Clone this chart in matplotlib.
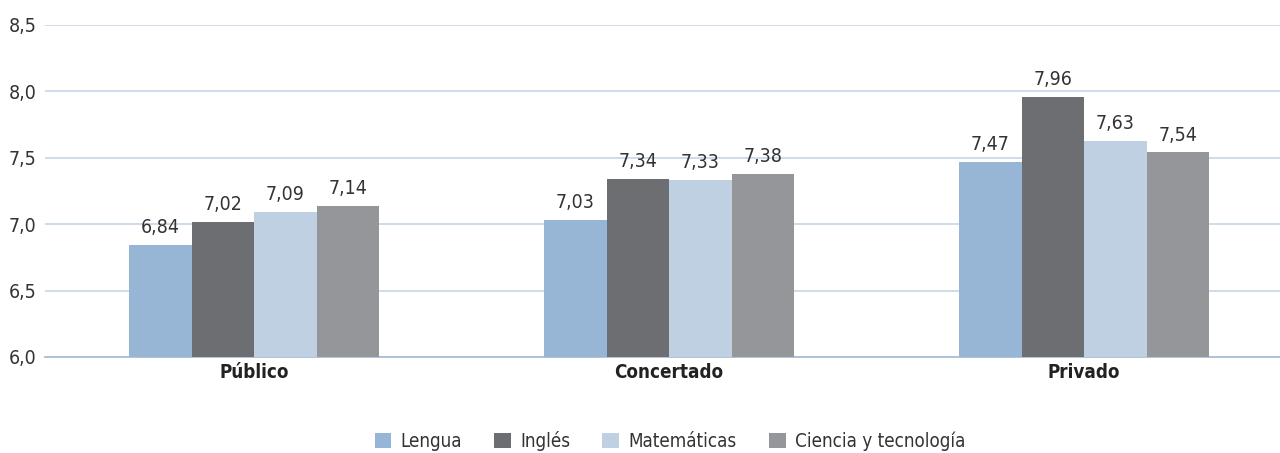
import numpy as np
import matplotlib
matplotlib.use("Agg")
import matplotlib.pyplot as plt

plt.rcParams['font.family'] = ['DejaVu Sans']
plt.rcParams['font.stretch'] = 'condensed'

grupos = ["Público", "Concertado", "Privado"]
series = ["Lengua", "Inglés", "Matemáticas", "Ciencia y tecnología"]
lengua = [6.84, 7.03, 7.47]
ingles = [7.02, 7.34, 7.96]
matematicas = [7.09, 7.33, 7.63]
ciencia = [7.14, 7.38, 7.54]
colores = ["#97B5D4", "#6D6E72", "#BED0E2", "#959699"]

valores = [lengua, ingles, matematicas, ciencia]

fig = plt.figure(figsize=(12.8, 4.53), dpi=100)
ax = fig.add_axes([45/1280, 96/453, 1235/1280, 332/453])

x = np.arange(len(grupos))
w = 0.1506
for i, (nombre, vals, c) in enumerate(zip(series, valores, colores)):
    pos = x + (i - 1.5) * w
    ax.bar(pos, np.array(vals) - 6.0, w, bottom=6.0, color=c, label=nombre, zorder=3)
    for p, v in zip(pos, vals):
        ax.text(p, v + 0.06, f"{v:.2f}".replace(".", ","), ha="center", va="bottom",
                fontsize=14, color="#333333")

ax.set_ylim(6.0, 8.5)
ax.set_xlim(-0.504, 2.472)
yt = np.arange(6.0, 8.51, 0.5)
ax.set_yticks(yt)
ax.set_yticklabels([f"{t:.1f}".replace(".", ",") for t in yt], fontsize=14, color="#333333")
ax.set_xticks(x)
ax.set_xticklabels(grupos, fontsize=13.5, fontweight="bold", color="#222222")
ax.tick_params(axis="both", length=0)
ax.tick_params(axis="y", pad=6)
ax.tick_params(axis="x", pad=4)
ax.grid(axis="y", color="#C8D6E6", linewidth=1.2, zorder=0)
for s in ["top", "right", "left"]:
    ax.spines[s].set_visible(False)
ax.spines["bottom"].set_color("#A9BFD6")
ax.spines["bottom"].set_linewidth(1.3)

fig.legend(loc="center", bbox_to_anchor=(670/1280, 1 - 441/453), ncol=4, frameon=False,
           fontsize=13.5, handlelength=0.9, handleheight=0.9, columnspacing=1.7,
           handletextpad=0.5, labelcolor="#333333")

fig.savefig("out.png", dpi=100)
